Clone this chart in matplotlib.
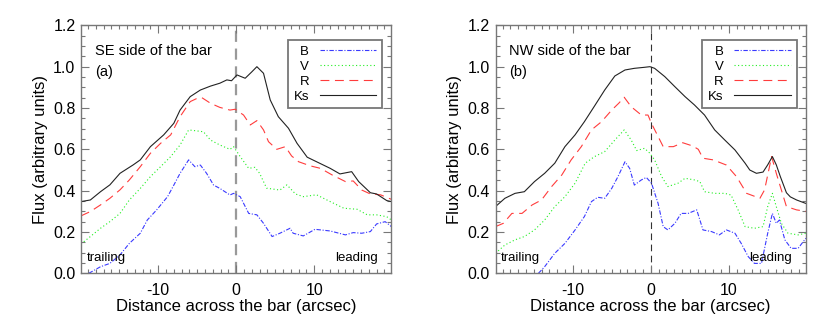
import matplotlib.pyplot as plt
from matplotlib.ticker import MultipleLocator

plt.rcParams['font.family'] = ['Liberation Sans', 'DejaVu Sans']
plt.rcParams['axes.unicode_minus'] = False

# --- SE side of the bar (panel a) ---
se_ks_x = [-19.9, -18.7, -17.4, -16.2, -14.9, -13.2, -12.3, -11.0, -9.3, -8.0, -7.2, -5.9, -4.6, -3.3,
           -2.1, -1.2, -0.6, 0.1, 1.15, 2.0, 2.65, 3.5, 4.36, 5.4, 6.7, 7.8, 9.1, 10.3, 12.05, 13.3,
           14.8, 15.7, 17.2, 18.0, 19.3, 19.9]
se_ks = [0.347, 0.355, 0.395, 0.428, 0.484, 0.525, 0.549, 0.613, 0.67, 0.726, 0.79, 0.855, 0.887, 0.906,
         0.92, 0.936, 0.932, 0.96, 0.944, 0.975, 1.0, 0.968, 0.839, 0.758, 0.702, 0.629, 0.562, 0.54,
         0.508, 0.481, 0.492, 0.444, 0.39, 0.384, 0.352, 0.347]

se_r_x = [-19.9, -18.7, -17.4, -16.2, -14.9, -13.7, -12.3, -11.0, -9.7, -8.4, -7.2, -5.9, -5.0, -4.4,
          -3.3, -2.1, -0.8, -0.13, 0.94, 1.8, 2.65, 3.5, 4.14, 5.2, 6.3, 7.1, 8.0, 9.5, 10.8, 12.3,
          14.0, 15.0, 16.1, 17.2, 18.5, 19.9]
se_r = [0.278, 0.299, 0.331, 0.363, 0.404, 0.452, 0.516, 0.581, 0.629, 0.67, 0.758, 0.831, 0.847, 0.85,
        0.823, 0.803, 0.79, 0.794, 0.766, 0.718, 0.739, 0.694, 0.637, 0.6, 0.613, 0.568, 0.54, 0.52,
        0.508, 0.476, 0.444, 0.447, 0.403, 0.384, 0.38, 0.358]

se_v_x = [-19.9, -18.7, -17.4, -16.2, -14.9, -13.7, -12.3, -11.0, -9.7, -8.4, -7.2, -6.1, -5.0, -4.2,
          -3.3, -2.1, -0.8, -0.34, 0.51, 1.6, 2.4, 3.0, 3.9, 5.6, 6.5, 7.6, 8.6, 10.3, 12.05, 13.8,
          15.5, 16.8, 18.0, 19.3, 19.9]
se_v = [0.142, 0.178, 0.218, 0.25, 0.29, 0.355, 0.411, 0.468, 0.516, 0.565, 0.621, 0.694, 0.689, 0.685,
        0.645, 0.621, 0.6, 0.613, 0.565, 0.508, 0.513, 0.484, 0.412, 0.403, 0.428, 0.384, 0.371, 0.38,
        0.347, 0.315, 0.31, 0.283, 0.283, 0.274, 0.258]

se_b_x = [-18.9, -17.4, -16.2, -14.9, -13.7, -12.3, -11.4, -10.2, -8.8, -8.0, -7.2, -6.1, -5.3, -4.6,
          -3.8, -2.9, -2.1, -0.8, -0.34, 0.51, 1.6, 2.65, 3.5, 4.6, 5.6, 6.9, 7.3, 8.6, 10.1, 12.05,
          14.0, 15.0, 16.1, 17.2, 18.0, 19.1, 19.9]
se_b = [0.0, 0.032, 0.048, 0.089, 0.145, 0.194, 0.258, 0.307, 0.371, 0.427, 0.484, 0.549, 0.516, 0.524,
        0.484, 0.427, 0.411, 0.379, 0.387, 0.371, 0.29, 0.283, 0.242, 0.178, 0.194, 0.218, 0.194, 0.181,
        0.213, 0.205, 0.186, 0.197, 0.194, 0.202, 0.239, 0.25, 0.226]

# --- NW side of the bar (panel b) ---
nw_ks_x = [-19.9, -18.7, -17.4, -16.2, -14.9, -13.6, -12.3, -11.0, -9.7, -8.5, -7.2, -5.9, -4.6, -3.3,
           -2.1, -0.8, -0.1, 0.5, 1.8, 3.1, 4.4, 5.6, 6.9, 8.2, 9.5, 10.8, 12.1, 12.7, 13.55, 14.4,
           15.0, 15.6, 16.1, 16.6, 17.4, 17.9, 18.7, 19.9]
nw_ks = [0.323, 0.363, 0.387, 0.395, 0.444, 0.484, 0.533, 0.613, 0.67, 0.734, 0.81, 0.887, 0.955, 0.984,
         0.992, 0.997, 1.0, 0.992, 0.952, 0.903, 0.855, 0.815, 0.766, 0.694, 0.645, 0.597, 0.533, 0.5,
         0.484, 0.49, 0.525, 0.565, 0.525, 0.47, 0.39, 0.37, 0.355, 0.338]

nw_r_x = [-19.9, -18.9, -17.8, -16.5, -15.2, -14.0, -12.7, -11.4, -10.2, -8.9, -7.6, -6.3, -5.0, -4.1,
          -3.4, -2.5, -1.2, -0.35, 0.09, 1.6, 2.9, 4.1, 5.4, 6.1, 6.7, 8.0, 9.7, 11.0, 12.3, 14.0,
          14.6, 15.5, 16.1, 17.4, 18.7, 19.9]
nw_r = [0.226, 0.242, 0.29, 0.29, 0.331, 0.355, 0.42, 0.476, 0.549, 0.613, 0.694, 0.734, 0.79, 0.823,
        0.852, 0.806, 0.766, 0.766, 0.726, 0.613, 0.613, 0.632, 0.616, 0.6, 0.557, 0.549, 0.524, 0.468,
        0.387, 0.363, 0.404, 0.565, 0.484, 0.323, 0.307, 0.3]

nw_v_x = [-19.9, -18.7, -17.4, -16.2, -14.9, -13.6, -12.3, -11.0, -9.7, -8.4, -7.2, -5.9, -4.6, -3.4,
          -2.5, -1.8, -0.8, -0.1, 0.5, 1.4, 2.2, 3.5, 4.4, 5.6, 6.3, 6.9, 8.2, 9.5, 10.3, 11.2, 12.1,
          13.3, 14.4, 15.0, 15.6, 16.1, 16.75, 17.6, 18.9, 19.9]
nw_v = [0.097, 0.137, 0.162, 0.178, 0.21, 0.258, 0.323, 0.371, 0.436, 0.533, 0.565, 0.589, 0.645, 0.694,
        0.645, 0.594, 0.605, 0.581, 0.549, 0.468, 0.42, 0.436, 0.46, 0.452, 0.444, 0.395, 0.387, 0.387,
        0.379, 0.307, 0.226, 0.218, 0.226, 0.323, 0.387, 0.323, 0.242, 0.194, 0.186, 0.194]

nw_b_x = [-14.4, -13.6, -12.3, -11.0, -9.7, -8.5, -7.6, -6.8, -5.9, -5.0, -4.2, -3.3, -2.7, -2.1, -1.2,
          -0.56, 0.1, 0.94, 1.6, 2.2, 3.1, 3.9, 4.8, 5.9, 6.7, 7.8, 8.8, 9.7, 10.8, 11.6, 12.5, 13.3,
          14.2, 15.0, 15.6, 16.1, 16.5, 17.2, 18.0, 18.9, 19.9]
nw_b = [0.0, 0.032, 0.097, 0.145, 0.21, 0.275, 0.347, 0.368, 0.363, 0.411, 0.468, 0.54, 0.508, 0.427,
        0.452, 0.464, 0.436, 0.339, 0.226, 0.21, 0.242, 0.29, 0.29, 0.307, 0.21, 0.202, 0.186, 0.21,
        0.194, 0.145, 0.081, 0.048, 0.048, 0.194, 0.29, 0.242, 0.258, 0.162, 0.121, 0.121, 0.17]

bands = ['B', 'V', 'R', 'Ks']
band_colors = {'B': '#3a3aff', 'V': '#22ee22', 'R': '#ff3c3c', 'Ks': '#222222'}
band_dashes = {'B': (4, 1.5, 1, 1.5), 'V': (1, 2.2), 'R': (8, 5), 'Ks': None}

panels = [
    dict(title='SE side of the bar', tag='(a)', vcolor='#999999', vlw=1.6, vdash=(5, 3),
         data={'B': (se_b_x, se_b), 'V': (se_v_x, se_v), 'R': (se_r_x, se_r), 'Ks': (se_ks_x, se_ks)}),
    dict(title='NW side of the bar', tag='(b)', vcolor='#333333', vlw=0.8, vdash=(6, 4),
         data={'B': (nw_b_x, nw_b), 'V': (nw_v_x, nw_v), 'R': (nw_r_x, nw_r), 'Ks': (nw_ks_x, nw_ks)}),
]

fig = plt.figure(figsize=(8.3, 3.25), dpi=100)
lefts = [0.0976, 0.597]
frame_col = '#777777'

for p, left in zip(panels, lefts):
    ax = fig.add_axes([left, 0.159, 0.374, 0.763])

    ax.axvline(0, color=p['vcolor'], lw=p['vlw'], dashes=p['vdash'], zorder=1)

    handles = []
    for b in bands:
        x, y = p['data'][b]
        ln, = ax.plot(x, y, color=band_colors[b], lw=0.8, label=b, zorder=2)
        if band_dashes[b] is not None:
            ln.set_dashes(band_dashes[b])
        handles.append(ln)

    ax.set_xlim(-19.9, 19.9)
    ax.set_ylim(0, 1.2)
    ax.xaxis.set_major_locator(MultipleLocator(10))
    ax.xaxis.set_minor_locator(MultipleLocator(1))
    ax.yaxis.set_major_locator(MultipleLocator(0.2))
    ax.yaxis.set_minor_locator(MultipleLocator(0.05))
    ax.yaxis.set_major_formatter(plt.FormatStrFormatter('%.1f'))
    ax.tick_params(which='both', direction='in', top=True, right=True, color=frame_col,
                   labelsize=11.5)
    ax.tick_params(axis='y', pad=4)
    ax.tick_params(axis='x', pad=7)
    ax.tick_params(which='major', length=6, width=0.8)
    ax.tick_params(which='minor', length=3, width=0.8)
    for s in ax.spines.values():
        s.set_color(frame_col)
        s.set_linewidth(1.0)

    ax.set_xlabel('Distance across the bar (arcsec)', fontsize=12, labelpad=1)
    ax.set_ylabel('Flux (arbitrary units)', fontsize=12, labelpad=4)

    ax.text(0.045, 0.895, p['title'], transform=ax.transAxes, fontsize=10.5, va='center')
    ax.text(0.045, 0.81, p['tag'], transform=ax.transAxes, fontsize=10.5, va='center')
    ax.text(0.018, 0.06, 'trailing', transform=ax.transAxes, fontsize=9.5, va='center')
    ax.text(0.955, 0.06, 'leading', transform=ax.transAxes, fontsize=9.5, va='center', ha='right')

    leg = ax.legend(handles=handles, loc='upper right', bbox_to_anchor=(0.971, 0.942),
                    markerfirst=False, alignment='right', fontsize=9.5, handlelength=4.3,
                    handletextpad=0.8, labelspacing=0.2, borderpad=0.45, borderaxespad=0,
                    fancybox=False, framealpha=1, edgecolor=frame_col)
    leg.get_frame().set_linewidth(1.3)

fig.savefig('out.png', dpi=100)
